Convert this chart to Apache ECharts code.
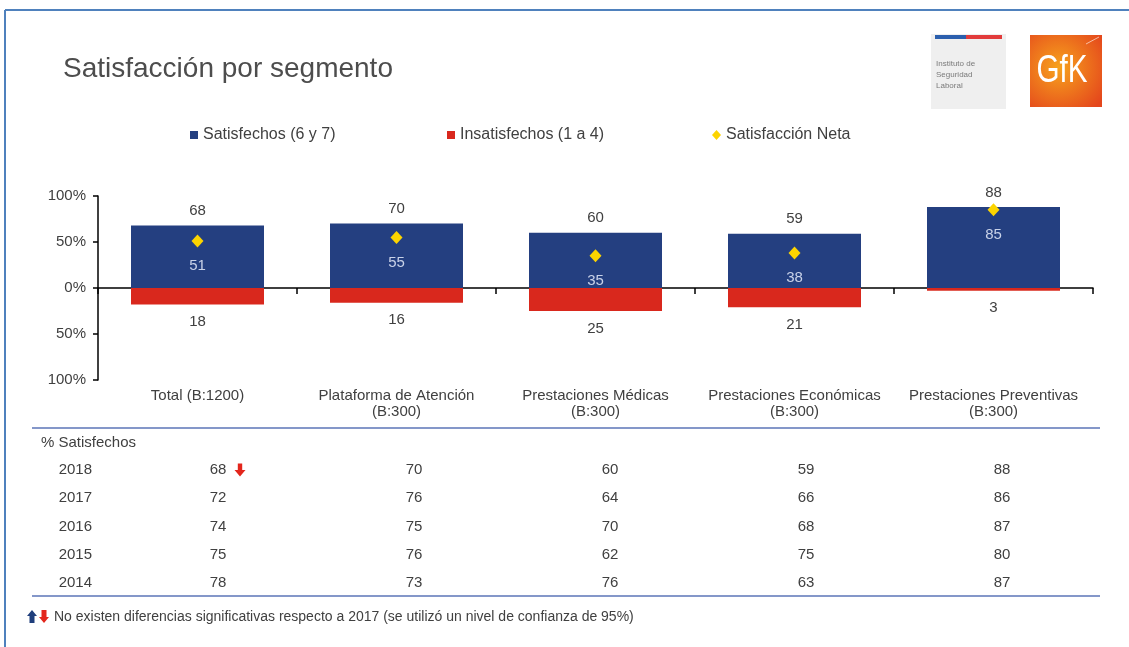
<!DOCTYPE html>
<html><head><meta charset="utf-8">
<script src="https://cdn.jsdelivr.net/npm/echarts@6/dist/echarts.min.js"></script>
<style>html,body{margin:0;padding:0;background:#fff}#c{width:1129px;height:647px}</style>
</head><body><div id="c"></div>
<script>
// ---- data ----
const categories = ['Total (B:1200)', 'Plataforma de Atención\n(B:300)', 'Prestaciones Médicas\n(B:300)', 'Prestaciones Económicas\n(B:300)', 'Prestaciones Preventivas\n(B:300)'];
const satisfechos = [68, 70, 60, 59, 88];
const insatisfechos = [18, 16, 25, 21, 3];
const satisfaccionNeta = [51, 55, 35, 38, 85];
const yTickLabels = ['100%', '50%', '0%', '50%', '100%']; // for -100, -50, 0, 50, 100
const tableYears = ['2018', '2017', '2016', '2015', '2014'];
const sat2018 = [68, 70, 60, 59, 88];
const sat2017 = [72, 76, 64, 66, 86];
const sat2016 = [74, 75, 70, 68, 87];
const sat2015 = [75, 76, 62, 75, 80];
const sat2014 = [78, 73, 76, 63, 87];
const significantChanges = [[0, 0, 'down']]; // [column, year row, direction]

// ---- derived ----
const tableRows = [sat2018, sat2017, sat2016, sat2015, sat2014];
const tableCells = [];
tableRows.forEach((row, ri) => row.forEach((v, ci) => tableCells.push([ci, ri, v])));
const DOWN = 'path://M3,0H7V6H10L5,12L0,6H3Z';
const UP = 'path://M5,0L10,6H7V12H3V6H0Z';

const FONT = '"Liberation Sans", Arial, sans-serif';
const TXT = '#404040';
const NAVY = '#243f80';
const RED = '#d9281d';
const YEL = '#fcd400';

const chart = echarts.init(document.getElementById('c'), null, {renderer: 'canvas'});
chart.setOption({
  animation: false,
  backgroundColor: '#fff',
  textStyle: {fontFamily: FONT},
  legend: [
    {data: ['Satisfechos (6 y 7)'], left: 190, top: 127, padding: 0, icon: 'rect', itemWidth: 8, itemHeight: 8,
     textStyle: {fontSize: 16, color: TXT, fontFamily: FONT}},
    {data: ['Insatisfechos (1 a 4)'], left: 447, top: 127, padding: 0, icon: 'rect', itemWidth: 8, itemHeight: 8,
     textStyle: {fontSize: 16, color: TXT, fontFamily: FONT}},
    {data: ['Satisfacción Neta'], left: 712, top: 127, padding: 0, icon: 'diamond', itemWidth: 9, itemHeight: 10,
     textStyle: {fontSize: 16, color: TXT, fontFamily: FONT}}
  ],
  grid: [
    {left: 98, top: 196, width: 995, height: 184, containLabel: false},
    {left: 120, top: 456, width: 980, height: 141, containLabel: false}
  ],
  xAxis: [
    {type: 'category', gridIndex: 0, data: categories, position: 'top',
     axisLine: {onZero: true, lineStyle: {color: '#000', width: 1.5}},
     axisTick: {show: true, inside: true, length: 6, lineStyle: {color: '#000', width: 1.5}},
     axisLabel: {show: false}, splitLine: {show: false}},
    {type: 'category', gridIndex: 0, data: categories, position: 'bottom',
     axisLine: {show: false, onZero: false}, axisTick: {show: false},
     axisLabel: {show: true, margin: 8, fontSize: 15, lineHeight: 16, color: TXT, fontFamily: FONT, interval: 0}},
    {type: 'category', gridIndex: 1, data: categories, show: false}
  ],
  yAxis: [
    {type: 'value', gridIndex: 0, min: -100, max: 100, interval: 50,
     axisLine: {show: true, lineStyle: {color: '#000', width: 1.5}},
     axisTick: {show: true, length: 5, lineStyle: {color: '#000', width: 1.5}},
     splitLine: {show: false},
     axisLabel: {margin: 12, fontSize: 15, color: TXT, fontFamily: FONT,
       formatter: v => yTickLabels[Math.round((v + 100) / 50)]}},
    {type: 'category', gridIndex: 1, data: tableYears, inverse: true,
     axisLine: {show: false}, axisTick: {show: false}, splitLine: {show: false},
     axisLabel: {margin: 28, fontSize: 15, color: TXT, fontFamily: FONT}}
  ],
  series: [
    {name: 'Satisfechos (6 y 7)', type: 'bar', xAxisIndex: 0, yAxisIndex: 0, stack: 's', barWidth: 133,
     data: satisfechos, itemStyle: {color: NAVY},
     label: {show: true, position: 'top', distance: 7, fontSize: 15, color: TXT, fontFamily: FONT}},
    {name: 'Insatisfechos (1 a 4)', type: 'bar', xAxisIndex: 0, yAxisIndex: 0, stack: 's', barWidth: 133,
     data: insatisfechos.map(v => -v), itemStyle: {color: RED},
     label: {show: true, position: 'bottom', distance: 10, fontSize: 15, color: TXT, fontFamily: FONT,
       formatter: p => Math.abs(p.value)}},
    {name: 'Satisfacción Neta', type: 'scatter', xAxisIndex: 0, yAxisIndex: 0, z: 5,
     data: satisfaccionNeta, symbol: 'diamond', symbolSize: [12, 13], itemStyle: {color: YEL, opacity: 1},
     label: {show: true, position: 'bottom', distance: 11, fontSize: 15, color: '#c9d2e8', fontFamily: FONT}},
    {name: 'tabla', type: 'scatter', xAxisIndex: 2, yAxisIndex: 1, silent: true,
     data: tableCells, symbol: 'rect', symbolSize: 1, itemStyle: {color: 'rgba(0,0,0,0)', opacity: 1},
     label: {show: true, position: 'inside', fontSize: 15, color: TXT, fontFamily: FONT, formatter: p => p.value[2]}},
    {name: 'cambio', type: 'scatter', xAxisIndex: 2, yAxisIndex: 1, silent: true,
     data: significantChanges.map(s => ({value: [s[0], s[1]], symbol: s[2] === 'down' ? DOWN : UP,
       itemStyle: {color: s[2] === 'down' ? '#e3261c' : '#1f3e7c', opacity: 1}})),
     symbolSize: [11, 13], symbolOffset: [22, 0]}
  ],
  graphic: [
    {type: 'line', shape: {x1: 5, y1: 10, x2: 1129, y2: 10}, style: {stroke: '#4f81bd', lineWidth: 2}},
    {type: 'line', shape: {x1: 5, y1: 10, x2: 5, y2: 647}, style: {stroke: '#4f81bd', lineWidth: 2}},
    {type: 'text', x: 63, y: 69, style: {text: 'Satisfacción por segmento', font: '28px ' + FONT, fill: '#4d4d4d', verticalAlign: 'middle'}},
    // ISL logo
    {type: 'rect', shape: {x: 931, y: 34, width: 75, height: 75}, style: {fill: '#efefef'}},
    {type: 'rect', shape: {x: 935, y: 35, width: 31, height: 4}, style: {fill: '#2b5fad'}},
    {type: 'rect', shape: {x: 966, y: 35, width: 36, height: 4}, style: {fill: '#e23b3b'}},
    {type: 'text', x: 936, y: 58, style: {text: 'Instituto de\nSeguridad\nLaboral', font: '8px ' + FONT, fill: '#7a7a7a', lineHeight: 11}},
    // GfK logo
    {type: 'rect', shape: {x: 1030, y: 35, width: 72, height: 72},
     style: {fill: new echarts.graphic.RadialGradient(0.4, 0.45, 0.75, [{offset: 0, color: '#f7a21d'}, {offset: 1, color: '#e4461c'}])}},
    {type: 'line', shape: {x1: 1086, y1: 44, x2: 1099, y2: 37}, style: {stroke: 'rgba(255,255,255,0.6)', lineWidth: 1}},
    {type: 'text', x: 1062, y: 72, scaleX: 0.78, style: {text: 'GfK', font: '38px ' + FONT, fill: '#fff', align: 'center', verticalAlign: 'middle'}},
    // table
    {type: 'line', shape: {x1: 32, y1: 428, x2: 1100, y2: 428}, style: {stroke: '#8497c9', lineWidth: 2}},
    {type: 'line', shape: {x1: 32, y1: 596, x2: 1100, y2: 596}, style: {stroke: '#8497c9', lineWidth: 2}},
    {type: 'text', x: 41, y: 443, style: {text: '% Satisfechos', font: '15px ' + FONT, fill: TXT, verticalAlign: 'middle'}},
    // footnote
    {type: 'polygon', shape: {points: [[32, 610], [37, 616], [34.5, 616], [34.5, 623], [29.5, 623], [29.5, 616], [27, 616]]}, style: {fill: '#1f3e7c'}},
    {type: 'polygon', shape: {points: [[41.5, 610], [46.5, 610], [46.5, 617], [49, 617], [44, 623], [39, 617], [41.5, 617]]}, style: {fill: '#e3261c'}},
    {type: 'text', x: 54, y: 617, style: {text: 'No existen diferencias significativas respecto a 2017 (se utilizó un nivel de confianza de 95%)', font: '14px ' + FONT, fill: TXT, verticalAlign: 'middle'}}
  ]
});
</script></body></html>
